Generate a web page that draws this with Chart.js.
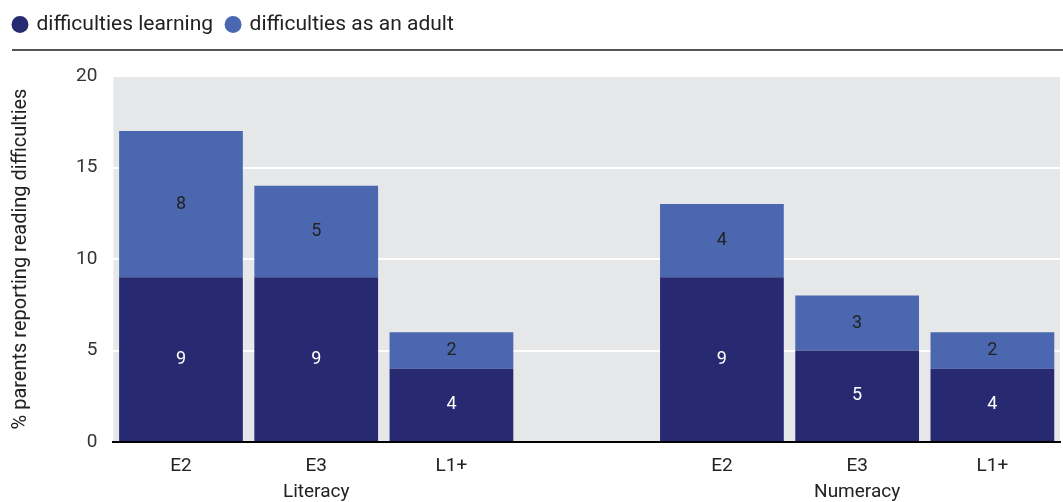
<!DOCTYPE html>
<html>
<head>
<meta charset="utf-8">
<script src="https://cdn.jsdelivr.net/npm/chart.js@4"></script>
<style>
  html, body { margin: 0; padding: 0; background: #fff; }
  #wrap { width: 1063px; height: 502px; position: relative; }
</style>
</head>
<body>
<div id="wrap"><canvas id="c"></canvas></div>
<script>
// categorie (slot vuoto tra i due gruppi)
const levels = ['E2', 'E3', 'L1+', '', 'E2', 'E3', 'L1+'];
const groups = ['', 'Literacy', '', '', '', 'Numeracy', ''];
const learning = [9, 9, 4, null, 9, 5, 4];
const adult = [8, 5, 2, null, 4, 3, 2];
const yTicks = [0, 5, 10, 15, 20];

const darkBlue = '#272a70';
const lightBlue = '#4a67b0';
const fontName = 'Roboto, "DejaVu Sans", sans-serif';

// altezza fissa per la legenda
const legendHeight = {
  id: 'legendHeight',
  beforeInit(chart) {
    const fit = chart.legend.fit;
    chart.legend.fit = function () {
      fit.bind(chart.legend)();
      this.height = 76;
    };
  }
};

// sfondo grigio dell'area del grafico
const plotBg = {
  id: 'plotBg',
  beforeDraw(chart) {
    const { ctx, chartArea: a } = chart;
    ctx.save();
    ctx.fillStyle = '#e6e7e9';
    ctx.fillRect(a.left, a.top, a.right - a.left, a.bottom - a.top);
    ctx.restore();
  },
  afterDraw(chart) {
    // linea sotto la legenda
    const ctx = chart.ctx;
    ctx.save();
    ctx.strokeStyle = '#555';
    ctx.lineWidth = 2;
    ctx.beginPath();
    ctx.moveTo(12, 50);
    ctx.lineTo(1063, 50);
    ctx.stroke();
    ctx.restore();
  }
};

// etichette dei valori dentro le barre
const valueLabels = {
  id: 'valueLabels',
  afterDatasetsDraw(chart) {
    const ctx = chart.ctx;
    ctx.save();
    ctx.font = '18px ' + fontName;
    ctx.textAlign = 'center';
    ctx.textBaseline = 'middle';
    chart.data.datasets.forEach((ds, i) => {
      chart.getDatasetMeta(i).data.forEach((bar, j) => {
        const v = ds.data[j];
        if (v == null) return;
        ctx.fillStyle = i === 0 ? '#ffffff' : '#222222';
        ctx.fillText(String(v), bar.x, (bar.y + bar.base) / 2);
      });
    });
    ctx.restore();
  }
};

const ctx = document.getElementById('c').getContext('2d');
new Chart(ctx, {
  type: 'bar',
  data: {
    labels: levels.map((l, i) => [l, groups[i]]),
    datasets: [
      { label: 'difficulties learning', data: learning, backgroundColor: darkBlue },
      { label: 'difficulties as an adult', data: adult, backgroundColor: lightBlue }
    ]
  },
  options: {
    responsive: true,
    maintainAspectRatio: false,
    animation: false,
    layout: { padding: { left: 0, right: 3, top: 0, bottom: -6 } },
    datasets: { bar: { categoryPercentage: 1, barPercentage: 0.915 } },
    plugins: {
      legend: {
        position: 'top',
        align: 'start',
        labels: {
          usePointStyle: true,
          pointStyle: 'circle',
          boxWidth: 12,
          boxHeight: 12,
          padding: 14,
          color: '#222',
          font: { family: fontName, size: 21 }
        }
      },
      tooltip: { enabled: false }
    },
    scales: {
      x: {
        stacked: true,
        grid: { display: false },
        border: { color: '#000', width: 2 },
        ticks: {
          color: '#222',
          font: { family: fontName, size: 19, lineHeight: '26px' },
          padding: 3
        }
      },
      y: {
        stacked: true,
        min: 0,
        max: 20,
        afterBuildTicks(axis) { axis.ticks = yTicks.map(v => ({ value: v })); },
        grid: { color: '#ffffff', lineWidth: 2, drawTicks: false },
        border: { display: false },
        ticks: {
          color: '#333',
          padding: 16,
          font: { family: fontName, size: 19 }
        },
        title: {
          display: true,
          text: '% parents reporting reading difficulties',
          color: '#222',
          font: { family: fontName, size: 20 },
          padding: { top: 9, bottom: 27 }
        }
      }
    }
  },
  plugins: [legendHeight, plotBg, valueLabels]
});
</script>
</body>
</html>
